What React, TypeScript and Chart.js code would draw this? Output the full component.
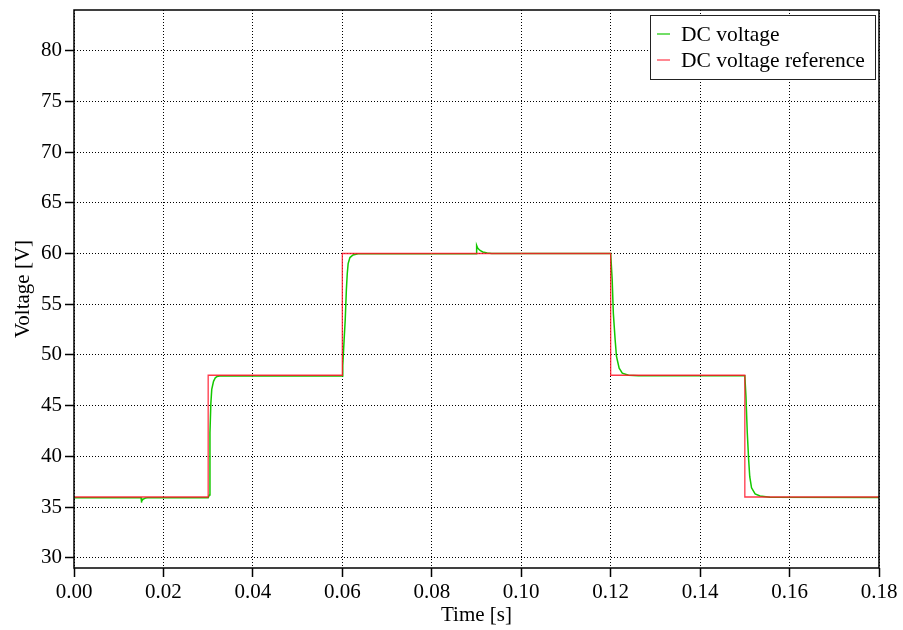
import { useEffect, useRef } from "react";
import { Chart, registerables } from "chart.js";

Chart.register(...registerables);

// Measured DC link voltage [s, V]
const dcTime = [
  0, 0.015, 0.01505, 0.0152, 0.0155, 0.016, 0.0165,
  0.03, 0.03027, 0.0304, 0.0306, 0.0308, 0.0312, 0.0316, 0.032, 0.0326,
  0.06, 0.0601, 0.0604, 0.06065, 0.0609, 0.0611, 0.0613, 0.0617, 0.0624, 0.0635,
  0.09, 0.09003, 0.0903, 0.0908, 0.0914, 0.0924, 0.0934,
  0.12, 0.12034, 0.1206, 0.121, 0.1213, 0.1219, 0.1226, 0.124, 0.1262,
  0.15, 0.15025, 0.15055, 0.15085, 0.1511, 0.1515, 0.1523, 0.1534, 0.1556, 0.18,
];
const dcVoltage = [
  35.92, 35.92, 35.45, 35.6, 35.8, 35.9, 35.92,
  35.92, 36.2, 42.3, 45.2, 46.6, 47.4, 47.75, 47.88, 47.92,
  47.92, 49.0, 51.5, 53.5, 56.4, 58.0, 59.0, 59.6, 59.85, 59.97,
  59.97, 60.8, 60.5, 60.3, 60.15, 60.05, 60.0,
  60.0, 57.4, 54.1, 51.5, 49.85, 48.7, 48.2, 48.0, 47.95,
  47.95, 45.9, 42.3, 39.7, 38.0, 36.9, 36.3, 36.1, 35.97, 35.95,
];

// Voltage reference steps [s, V]
const refTime = [0, 0.03, 0.03, 0.06, 0.06, 0.12, 0.12, 0.15, 0.15, 0.18];
const refVoltage = [36, 36, 48, 48, 60, 60, 48, 48, 36, 36];

const xTicks = [0, 0.02, 0.04, 0.06, 0.08, 0.1, 0.12, 0.14, 0.16, 0.18];
const yTicks = [30, 35, 40, 45, 50, 55, 60, 65, 70, 75, 80];

const FONT_FAMILY = '"Liberation Serif", "DejaVu Serif", "Times New Roman", serif';

const GREEN = "rgb(20, 200, 0)";
const RED = "rgba(255, 20, 40, 0.85)";

// Solid frame around the plotting area
const framePlugin = {
  id: "frame",
  afterDatasetsDraw(chart: Chart) {
    const { ctx, chartArea } = chart;
    ctx.save();
    ctx.strokeStyle = "#000";
    ctx.lineWidth = 1.5;
    ctx.strokeRect(chartArea.left, chartArea.top, chartArea.right - chartArea.left, chartArea.bottom - chartArea.top);
    ctx.restore();
  },
};

// Boxed legend in the top-right corner of the plot
const boxLegendPlugin = {
  id: "boxLegend",
  afterDraw(chart: Chart) {
    const { ctx, chartArea } = chart;
    const x0 = chartArea.right - 229;
    const y0 = chartArea.top + 5;
    const w = 225;
    const h = 64;
    ctx.save();
    ctx.fillStyle = "#fff";
    ctx.fillRect(x0, y0, w, h);
    ctx.strokeStyle = "#222";
    ctx.lineWidth = 1;
    ctx.strokeRect(x0 + 0.5, y0 + 0.5, w, h);
    ctx.font = `21.5px ${FONT_FAMILY}`;
    ctx.textBaseline = "middle";
    chart.data.datasets.forEach((ds: any, i: number) => {
      const y = y0 + 19 + i * 26;
      ctx.strokeStyle = ds.borderColor;
      ctx.lineWidth = 1.2;
      ctx.beginPath();
      ctx.moveTo(x0 + 7, y);
      ctx.lineTo(x0 + 20, y);
      ctx.stroke();
      ctx.fillStyle = "#000";
      ctx.fillText(ds.label, x0 + 31, y + 1);
    });
    ctx.restore();
  },
};

export default function App() {
  const canvasRef = useRef<HTMLCanvasElement | null>(null);

  useEffect(() => {
    const canvas = canvasRef.current;
    if (!canvas) return;

    const font = { family: FONT_FAMILY, size: 21, lineHeight: 1.2 };

    const chart = new Chart(canvas, {
      type: "line",
      data: {
        datasets: [
          {
            label: "DC voltage",
            data: dcTime.map((t, i) => ({ x: t, y: dcVoltage[i] })),
            borderColor: GREEN,
            borderWidth: 1.5,
            pointRadius: 0,
            tension: 0,
            order: 1,
          },
          {
            label: "DC voltage reference",
            data: refTime.map((t, i) => ({ x: t, y: refVoltage[i] })),
            borderColor: RED,
            borderWidth: 1.3,
            pointRadius: 0,
            tension: 0,
            order: 0,
          },
        ],
      },
      options: {
        responsive: false,
        animation: false,
        events: [],
        layout: { padding: { left: 0, right: 24, top: 10, bottom: 0 } },
        plugins: {
          legend: { display: false },
          tooltip: { enabled: false },
        },
        scales: {
          x: {
            type: "linear",
            min: 0,
            max: 0.18,
            afterBuildTicks: (scale: any) => {
              scale.ticks = xTicks.map((v) => ({ value: v }));
            },
            afterFit: (scale: any) => {
              scale.height = 62;
              scale.paddingLeft = 0;
              scale.paddingRight = 0;
            },
            ticks: {
              color: "#000",
              font,
              padding: 3,
              maxRotation: 0,
              autoSkip: false,
              callback: (v: any) => Number(v).toFixed(2),
            },
            grid: {
              color: "#000",
              lineWidth: 1,
              tickLength: 9,
              tickColor: "#000",
              tickWidth: 1.5,
            },
            border: { display: false, dash: [1, 2] },
            title: {
              display: true,
              text: "Time [s]",
              color: "#000",
              font,
              padding: { top: 0, bottom: 2 },
            },
          },
          y: {
            type: "linear",
            min: 29,
            max: 84,
            afterBuildTicks: (scale: any) => {
              scale.ticks = yTicks.map((v) => ({ value: v }));
            },
            afterFit: (scale: any) => {
              scale.width = 74;
              scale.paddingTop = 0;
              scale.paddingBottom = 0;
            },
            ticks: {
              color: "#000",
              font,
              padding: 3,
              autoSkip: false,
              callback: (v: any) => String(v),
            },
            grid: {
              color: "#000",
              lineWidth: 1,
              tickLength: 9,
              tickColor: "#000",
              tickWidth: 1.5,
            },
            border: { display: false, dash: [1, 2] },
            title: {
              display: true,
              text: "Voltage [V]",
              color: "#000",
              font,
              padding: { top: 11, bottom: 0 },
            },
          },
        },
      },
      plugins: [framePlugin, boxLegendPlugin],
    });

    return () => chart.destroy();
  }, []);

  return (
    <div style={{ position: "absolute", left: 0, top: 0, width: 903, height: 630, background: "#fff" }}>
      <canvas ref={canvasRef} width={903} height={630} style={{ display: "block" }} />
    </div>
  );
}
